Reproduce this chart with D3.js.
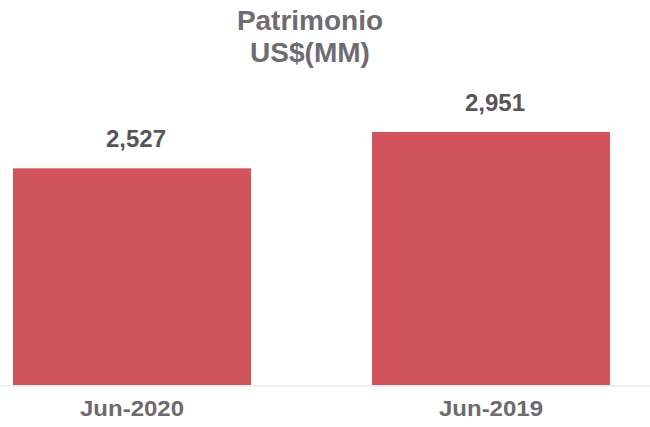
<!DOCTYPE html>
<html>
<head>
<meta charset="utf-8">
<script src="https://cdn.jsdelivr.net/npm/d3@7"></script>
<style>
html,body{margin:0;padding:0;background:#fff;}
svg{display:block;}
text{font-family:"Liberation Sans",Arial,sans-serif;font-weight:bold;}
</style>
</head>
<body>
<svg id="chart" width="650" height="427"></svg>
<script>
const categories = ["Jun-2020", "Jun-2019"];
const values = [2527, 2951];
const valueLabels = ["2,527", "2,951"];
const titleLines = ["Patrimonio", "US$(MM)"];

const W = 650, H = 427;
const svg = d3.select("#chart");

const x = d3.scaleBand().domain(categories).range([13, 610]).paddingInner(0.337).paddingOuter(0);
const y = d3.scaleLinear().domain([0, d3.max(values)]).range([385, 132]);

// faint baseline
svg.append("line")
  .attr("x1", 0).attr("x2", W)
  .attr("y1", y(0) + 1).attr("y2", y(0) + 1)
  .attr("stroke", "#eeeeee").attr("stroke-width", 2);

const data = categories.map((c, i) => ({c, v: values[i], label: valueLabels[i]}));

svg.selectAll("rect.bar").data(data).enter().append("rect")
  .attr("class", "bar")
  .attr("x", d => x(d.c))
  .attr("y", d => y(d.v))
  .attr("width", x.bandwidth())
  .attr("height", d => y(0) - y(d.v))
  .attr("fill", "#d1535b");

svg.selectAll("text.val").data(data).enter().append("text")
  .attr("class", "val")
  .attr("x", d => x(d.c) + x.bandwidth() / 2 + 4)
  .attr("y", d => y(d.v) - 21)
  .attr("text-anchor", "middle")
  .attr("font-size", 24)
  .attr("fill", "#58555a")
  .text(d => d.label);

// category axis labels
const xAxis = d3.axisBottom(x).tickSize(0).tickPadding(0);
const gx = svg.append("g").attr("transform", `translate(0, ${y(0)})`).call(xAxis);
gx.select(".domain").remove();
gx.selectAll(".tick text")
  .attr("font-size", 22)
  .attr("font-family", "'Liberation Sans', Arial, sans-serif")
  .attr("font-weight", "bold")
  .attr("fill", "#6d6a70")
  .attr("dy", 0)
  .attr("y", 31)
  .attr("textLength", 104)
  .attr("lengthAdjust", "spacingAndGlyphs");

// title
svg.selectAll("text.title").data(titleLines).enter().append("text")
  .attr("class", "title")
  .attr("x", 310)
  .attr("y", (d, i) => 30 + i * 32)
  .attr("text-anchor", "middle")
  .attr("font-size", 28)
  .attr("fill", "#6f6b71")
  .text(d => d);
</script>
</body>
</html>
